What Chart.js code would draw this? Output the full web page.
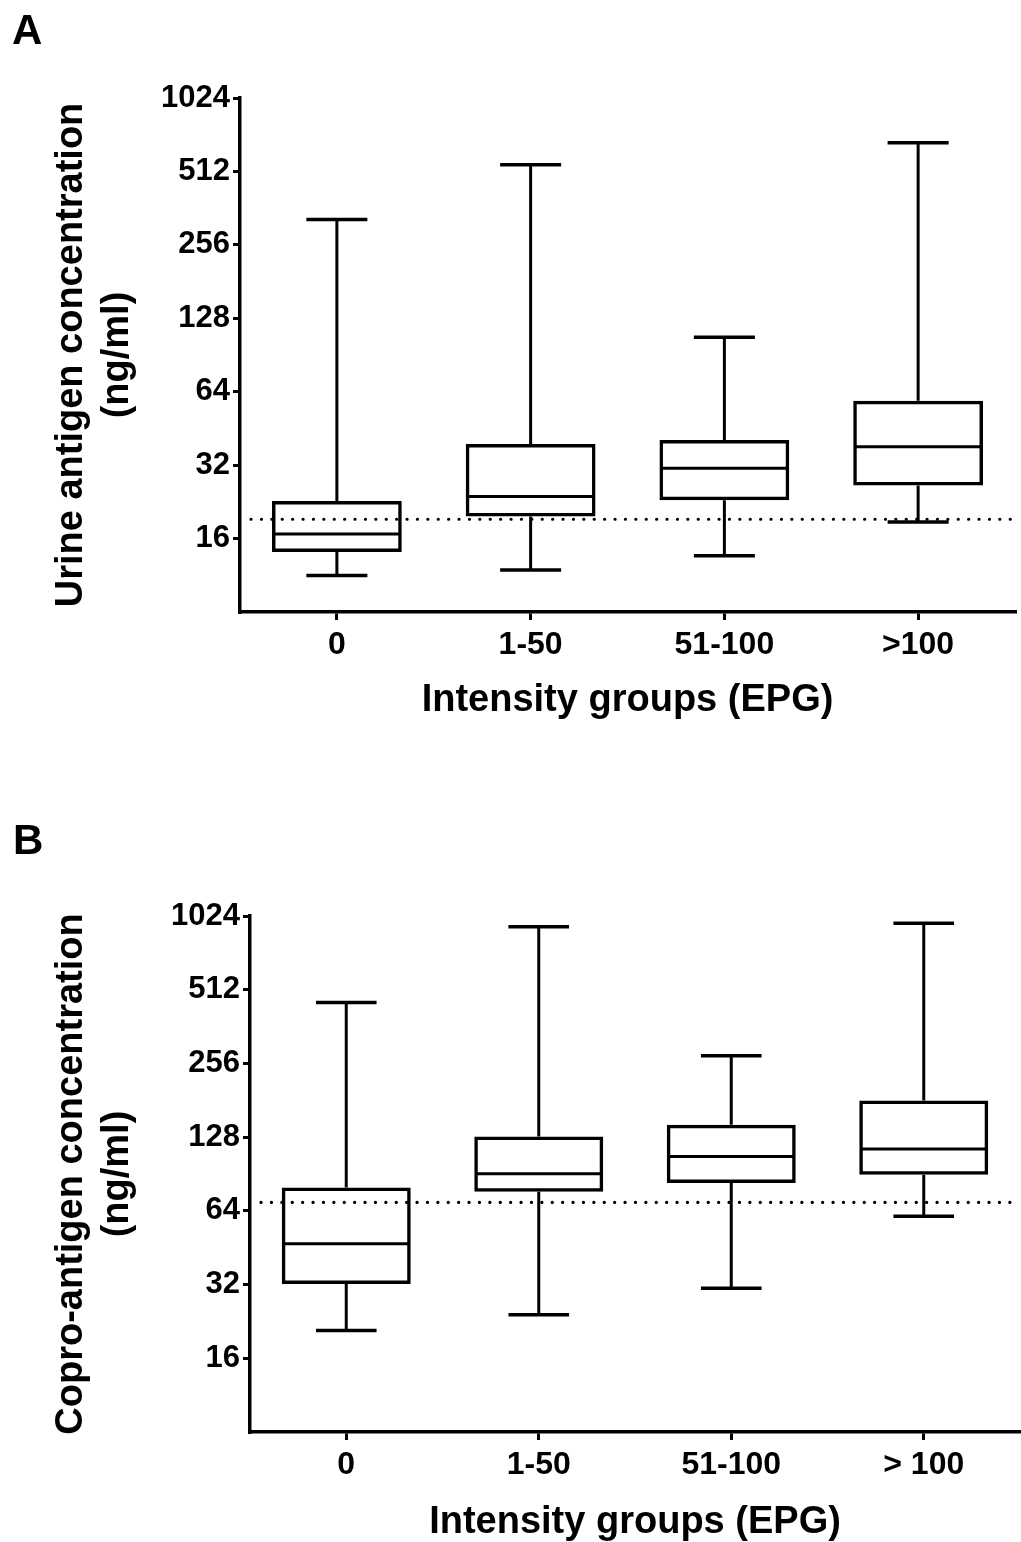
<!DOCTYPE html>
<html>
<head>
<meta charset="utf-8">
<script src="https://cdn.jsdelivr.net/npm/chart.js@4.4.1/dist/chart.umd.min.js"></script>
<style>
  body { margin: 0; background: #fff; }
  .panel { position: absolute; left: 0; width: 1021px; height: 771px; }
</style>
</head>
<body>
<div class="panel" style="top:0"><canvas id="graf-a" width="1021" height="771"></canvas></div>
<div class="panel" style="top:771px"><canvas id="graf-b" width="1021" height="771"></canvas></div>
<script>
// categorias
const gruposA = ['0', '1-50', '51-100', '>100']
const gruposB = ['0', '1-50', '51-100', '> 100']
const yTicks = [16, 32, 64, 128, 256, 512, 1024]

// urina (painel A)
const urinaMin = [11.3, 11.9, 13.6, 18.7]
const urinaQ1 = [14.1, 19.7, 23.0, 26.4]
const urinaMediana = [16.7, 23.8, 31.1, 38.1]
const urinaQ3 = [22.8, 39.1, 40.6, 58.8]
const urinaMax = [325, 545, 107, 671]
const urinaCorte = 19.2

// copro (painel B)
const coproMin = [20.8, 24.1, 30.9, 60.8]
const coproQ1 = [32.2, 76.6, 83.2, 89.9]
const coproMediana = [47.0, 90.8, 106.8, 114.5]
const coproQ3 = [79.8, 128.8, 143.8, 180.7]
const coproMax = [454, 926, 275, 956]
const coproCorte = 69.3

const fonte = 'Liberation Sans, Arial, sans-serif'

// desenha mediana, bigodes e linha pontilhada
const boxExtras = {
    id: 'boxExtras',
    afterDatasetsDraw(chart, args, opts) {
        const ctx = chart.ctx
        const y = chart.scales.y
        const area = chart.chartArea
        const barras = chart.getDatasetMeta(0).data
        ctx.save()
        ctx.strokeStyle = '#000'
        ctx.lineWidth = 3
        ctx.lineCap = 'butt'
        barras.forEach((b, i) => {
            const meia = b.width / 2
            const cap = b.width * 0.235
            const yMed = y.getPixelForValue(opts.mediana[i])
            const yQ1 = y.getPixelForValue(opts.q1[i])
            const yQ3 = y.getPixelForValue(opts.q3[i])
            const yMin = y.getPixelForValue(opts.min[i])
            const yMax = y.getPixelForValue(opts.max[i])
            ctx.beginPath()
            ctx.moveTo(b.x - meia + 2, yMed); ctx.lineTo(b.x + meia - 2, yMed)
            ctx.moveTo(b.x, yQ3); ctx.lineTo(b.x, yMax)
            ctx.moveTo(b.x, yQ1); ctx.lineTo(b.x, yMin)
            ctx.stroke()
            ctx.beginPath()
            ctx.lineWidth = 3.5
            ctx.moveTo(b.x - cap, yMax); ctx.lineTo(b.x + cap, yMax)
            ctx.moveTo(b.x - cap, yMin); ctx.lineTo(b.x + cap, yMin)
            ctx.stroke()
            ctx.lineWidth = 3
        })
        // pontilhado
        const yc = y.getPixelForValue(opts.corte)
        ctx.beginPath()
        ctx.lineCap = 'round'
        ctx.lineWidth = 3.2
        ctx.setLineDash([0.1, 10.3])
        ctx.moveTo(area.left + 11, yc)
        ctx.lineTo(area.right, yc)
        ctx.stroke()
        ctx.restore()
    }
}

function criarGraf(id, grupos, min, q1, mediana, q3, max, corte, tituloY, letra, lay) {
    const ctx = document.getElementById(id).getContext('2d')
    const caixas = q1.map((v, i) => [v, q3[i]])

    new Chart(ctx, {
        type: 'bar',
        data: {
            labels: grupos,
            datasets: [{
                data: caixas,
                backgroundColor: 'rgba(255,255,255,0)',
                borderColor: '#000',
                borderWidth: 3.5,
                borderSkipped: false,
                barPercentage: 0.67,
                categoryPercentage: 1
            }]
        },
        options: {
            responsive: false,
            animation: false,
            maintainAspectRatio: false,
            layout: { padding: lay.padding },
            plugins: {
                legend: { display: false },
                tooltip: { enabled: false },
                title: {
                    display: true,
                    text: letra,
                    align: 'start',
                    color: '#000',
                    font: { family: fonte, size: 42, weight: 'bold', lineHeight: 1.2 },
                    padding: lay.tituloPad
                },
                boxExtras: { min, q1, mediana, q3, max, corte }
            },
            scales: {
                x: {
                    afterFit: s => { s.height = lay.xAltura },
                    border: { color: '#000', width: 3.5 },
                    grid: { drawOnChartArea: false, offset: false, color: '#000', lineWidth: 3, tickLength: 8 },
                    ticks: { color: '#000', padding: 6, font: { family: fonte, size: 32, weight: 'bold' } },
                    title: {
                        display: true,
                        text: 'Intensity groups (EPG)',
                        color: '#000',
                        padding: { top: 0, bottom: -3 },
                        font: { family: fonte, size: 38, weight: 'bold', lineHeight: 1.2 }
                    }
                },
                y: {
                    type: 'logarithmic',
                    min: 8,
                    max: 1024,
                    afterFit: s => { s.width = lay.yLargura },
                    afterBuildTicks: s => { s.ticks = yTicks.map(v => ({ value: v })) },
                    border: { color: '#000', width: 3.5 },
                    grid: { drawOnChartArea: false, color: '#000', lineWidth: 3, tickLength: 7 },
                    ticks: {
                        color: '#000',
                        padding: 3,
                        font: { family: fonte, size: 31, weight: 'bold' },
                        callback: v => String(v)
                    },
                    title: {
                        display: true,
                        text: tituloY,
                        color: '#000',
                        padding: { top: lay.yTituloPad, bottom: 0 },
                        font: { family: fonte, size: 38, weight: 'bold', lineHeight: 1.21 }
                    }
                }
            }
        },
        plugins: [boxExtras]
    })
}

criarGraf('graf-a', gruposA, urinaMin, urinaQ1, urinaMediana, urinaQ3, urinaMax, urinaCorte,
    ['Urine antigen concentration', '(ng/ml)'], 'A',
    { padding: { left: 12, right: 6, top: 0, bottom: 51 }, tituloPad: { top: 7, bottom: 40.6 }, xAltura: 108, yLargura: 228, yTituloPad: 37 })

criarGraf('graf-b', gruposB, coproMin, coproQ1, coproMediana, coproQ3, coproMax, coproCorte,
    ['Copro-antigen concentration', '(ng/ml)'], 'B',
    { padding: { left: 13, right: 1, top: 0, bottom: 0 }, tituloPad: { top: 46, bottom: 48.6 }, xAltura: 110, yLargura: 237, yTituloPad: 36 })
</script>
</body>
</html>
